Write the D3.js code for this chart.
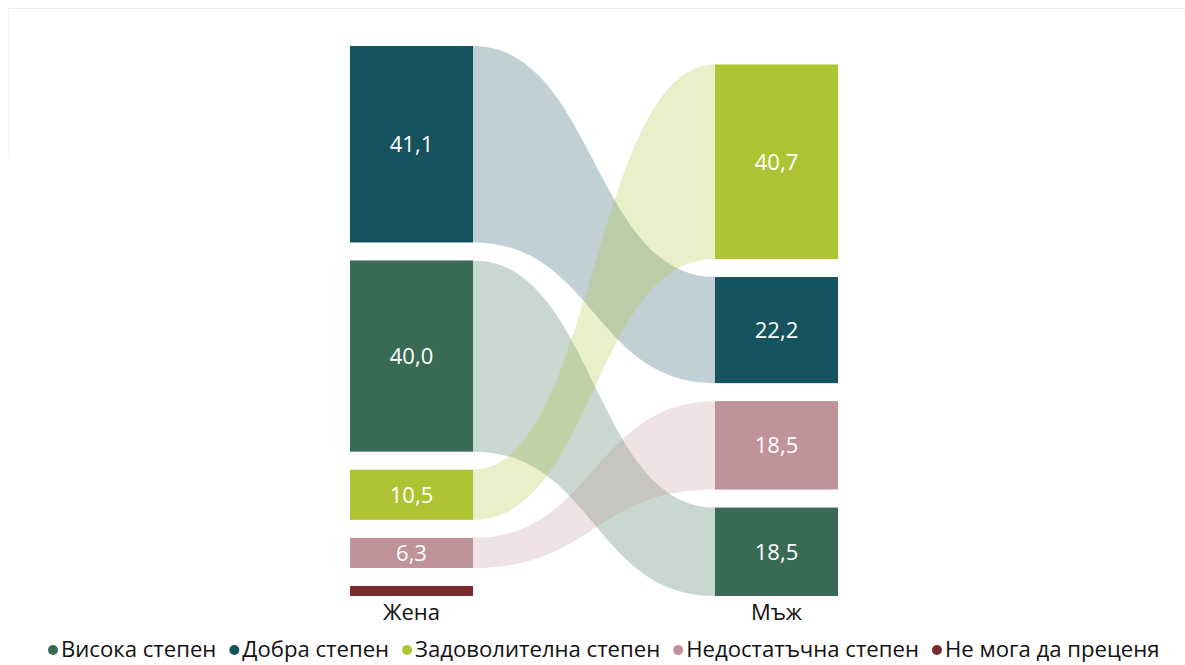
<!DOCTYPE html>
<html><head><meta charset="utf-8">
<script src="https://cdn.jsdelivr.net/npm/d3@7"></script>
<style>
body{margin:0;background:#fff;}
svg{display:block;font-family:"Open Sans",sans-serif;}
</style></head>
<body><svg id="c" width="1185" height="665"></svg>
<script>
const categories = ["Висока степен","Добра степен","Задоволителна степен","Недостатъчна степен","Не мога да преценя"];
const colors = ["#396a55","#15535f","#afc432","#c0929a","#7a2b2e"];
const groups = ["Жена","Мъж"];
const women = [40.0, 41.1, 10.5, 6.3, 2.1];
const men = [18.5, 22.2, 40.7, 18.5, 0];
const womenOrder = [1,0,2,3,4];
const menOrder = [2,1,3,0];

const svg = d3.select("#c");
// faint frame
svg.append("line").attr("x1",8).attr("x2",1185).attr("y1",8.5).attr("y2",8.5).attr("stroke","#ececec");
svg.append("line").attr("x1",8.5).attr("x2",8.5).attr("y1",8).attr("y2",158).attr("stroke","#f0f0f0");

const x = d3.scaleBand().domain(groups).range([350,838]).paddingInner(242/365).paddingOuter(0);
const h = d3.scaleLinear().domain([0,100]).range([0,478]);
const gap = 18, top0 = 46;

function stack(vals, order, bottom){
  const total = d3.sum(order, i=>vals[i]);
  let y = bottom - h(total) - gap*(order.length-1);
  const pos = {};
  order.forEach(i=>{ pos[i] = {y0:y, y1:y+h(vals[i])}; y += h(vals[i]) + gap; });
  return pos;
}
const bottom = top0 + h(d3.sum(women)) + gap*(womenOrder.length-1);
const L = stack(women, womenOrder, bottom);
const R = stack(men, menOrder, bottom);

const xl = x("Жена")+x.bandwidth(), xr = x("Мъж"), xm = (xl+xr)/2;
const links = svg.append("g");
categories.forEach((c,i)=>{
  if(!L[i]||!R[i]||women[i]===0||men[i]===0) return;
  const a=L[i], b=R[i];
  const p = d3.path();
  p.moveTo(xl,a.y0);
  p.bezierCurveTo(xm,a.y0,xm,b.y0,xr,b.y0);
  p.lineTo(xr,b.y1);
  p.bezierCurveTo(xm,b.y1,xm,a.y1,xl,a.y1);
  p.closePath();
  links.append("path").attr("d",p.toString()).attr("fill",colors[i]).attr("fill-opacity",0.27);
});

const fmt = v => d3.format(".1f")(v).replace(".",",");
function drawNodes(vals, pos, g){
  Object.keys(pos).forEach(k=>{
    const i=+k; if(vals[i]===0) return;
    const p=pos[i];
    svg.append("rect").attr("x",x(g)).attr("width",x.bandwidth()).attr("y",p.y0).attr("height",p.y1-p.y0).attr("fill",colors[i]);
    if(vals[i]>=3){
      svg.append("text").attr("x",x(g)+x.bandwidth()/2).attr("y",(p.y0+p.y1)/2).attr("dy","0.36em")
        .attr("text-anchor","middle").attr("fill","#fff").attr("font-size",22).text(fmt(vals[i]));
    }
  });
}
drawNodes(women, L, "Жена");
drawNodes(men, R, "Мъж");

groups.forEach(g=>{
  svg.append("text").attr("x",x(g)+x.bandwidth()/2).attr("y",620).attr("text-anchor","middle")
    .attr("font-size",22).attr("fill","#111").text(g);
});

// legend
const leg = svg.append("g");
let fs = 21;
const ly = 649;
function layout(){
  leg.selectAll("*").remove();
  let cx = 48;
  categories.forEach((c,i)=>{
    leg.append("circle").attr("cx",cx+5).attr("cy",ly+1).attr("r",5).attr("fill",colors[i]);
    const t = leg.append("text").attr("x",cx+13).attr("y",ly).attr("dy","0.35em").attr("font-size",fs).attr("fill","#111").text(c);
    cx += 13 + t.node().getComputedTextLength() + 13;
  });
  return cx - 13;
}
let end = layout();
fs = fs * (1160-48-13*9)/(end-48-13*9);
layout();
</script></body></html>
